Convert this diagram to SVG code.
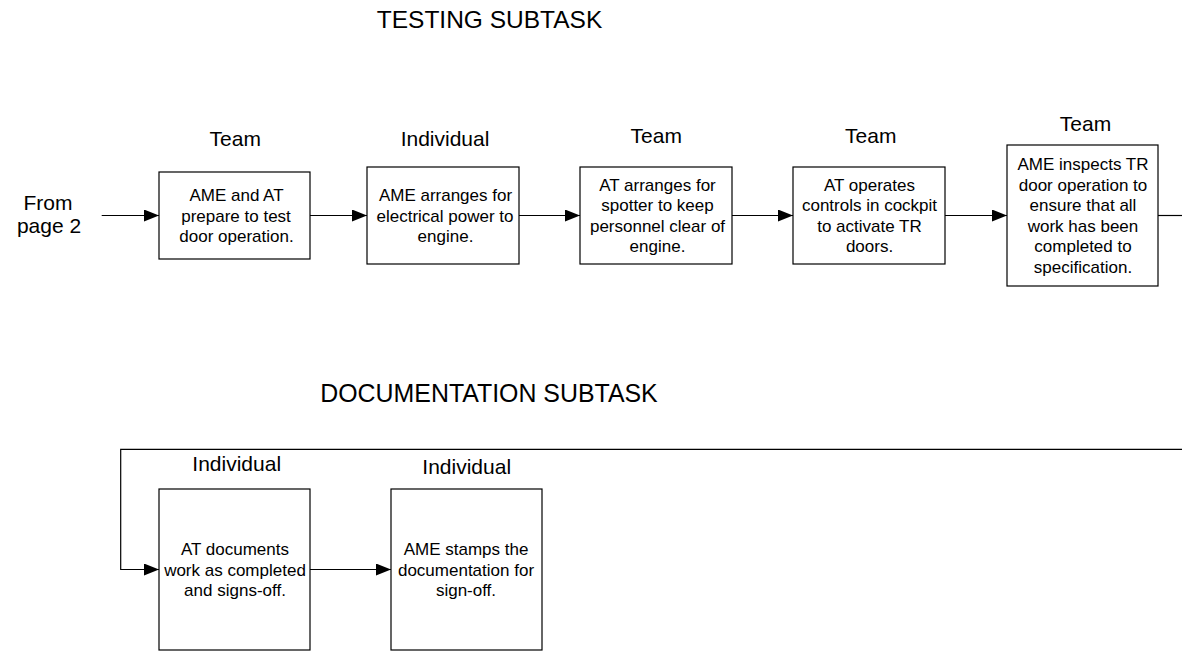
<svg xmlns="http://www.w3.org/2000/svg" width="1182" height="655" viewBox="0 0 1182 655">
<style>
text{font-family:"Liberation Sans",Arial,sans-serif;fill:#000}
.t{font-size:17px;text-anchor:middle}
.l{font-size:21px;text-anchor:middle}
.h{font-size:24.5px;text-anchor:middle}
rect{fill:#fff;stroke:#000;stroke-width:1.2}
.c{fill:none;stroke:#000;stroke-width:1.2}
</style>
<defs>
<marker id="ah" markerWidth="15" markerHeight="12" refX="15" refY="6" orient="auto" markerUnits="userSpaceOnUse">
<path d="M0,0 L15,6 L0,12 Z" fill="#000"/>
</marker>
</defs>
<rect x="0" y="0" width="1182" height="655" style="fill:#fff;stroke:none"/>
<text class="h" x="489.5" y="27.8">TESTING SUBTASK</text>
<text class="h" x="489" y="402.3" style="font-size:24.9px">DOCUMENTATION SUBTASK</text>
<g id="from">
<text class="l" x="48" y="210">From</text>
<text class="l" x="49" y="233.3">page 2</text>
</g>
<g id="connectors">
<line class="c" x1="101.7" y1="215.5" x2="159" y2="215.5" marker-end="url(#ah)"/>
<line class="c" x1="310" y1="215.5" x2="367" y2="215.5" marker-end="url(#ah)"/>
<line class="c" x1="519" y1="215.5" x2="580" y2="215.5" marker-end="url(#ah)"/>
<line class="c" x1="732" y1="215.5" x2="793" y2="215.5" marker-end="url(#ah)"/>
<line class="c" x1="945" y1="215.5" x2="1007" y2="215.5" marker-end="url(#ah)"/>
<line class="c" x1="1158" y1="215.5" x2="1182" y2="215.5"/>
<polyline class="c" points="1182,449.3 120.7,449.3 120.7,569.5 159,569.5" marker-end="url(#ah)"/>
<line class="c" x1="310" y1="569.5" x2="391" y2="569.5" marker-end="url(#ah)"/>
</g>
<g id="n1">
<text class="l" x="235.3" y="145.7">Team</text>
<rect x="159" y="172" width="151" height="87"/>
<text class="t" x="236.5" y="201">AME and AT</text>
<text class="t" x="236" y="221.5">prepare to test</text>
<text class="t" x="236.5" y="242">door operation.</text>
</g>
<g id="n2">
<text class="l" x="445" y="145.7">Individual</text>
<rect x="367" y="167" width="152" height="97"/>
<text class="t" x="445.5" y="201">AME arranges for</text>
<text class="t" x="445" y="221.5">electrical power to</text>
<text class="t" x="445.5" y="242">engine.</text>
</g>
<g id="n3">
<text class="l" x="656.3" y="142.7">Team</text>
<rect x="580" y="167" width="152" height="97"/>
<text class="t" x="657.5" y="190.8">AT arranges for</text>
<text class="t" x="657.5" y="211.3">spotter to keep</text>
<text class="t" x="657.5" y="231.8">personnel clear of</text>
<text class="t" x="657.5" y="252.3">engine.</text>
</g>
<g id="n4">
<text class="l" x="870.8" y="143.3">Team</text>
<rect x="793" y="167" width="152" height="97"/>
<text class="t" x="869.5" y="190.8">AT operates</text>
<text class="t" x="869.5" y="211.3">controls in cockpit</text>
<text class="t" x="869.5" y="231.8">to activate TR</text>
<text class="t" x="869.5" y="252.3">doors.</text>
</g>
<g id="n5">
<text class="l" x="1085.5" y="131">Team</text>
<rect x="1007" y="145" width="151" height="141"/>
<text class="t" x="1083" y="170.3">AME inspects TR</text>
<text class="t" x="1083" y="190.8">door operation to</text>
<text class="t" x="1083" y="211.3">ensure that all</text>
<text class="t" x="1083" y="231.8">work has been</text>
<text class="t" x="1083" y="252.3">completed to</text>
<text class="t" x="1083" y="272.8">specification.</text>
</g>
<g id="n6">
<text class="l" x="236.7" y="470.7">Individual</text>
<rect x="159" y="489" width="151" height="161"/>
<text class="t" x="235" y="555">AT documents</text>
<text class="t" x="235" y="575.5">work as completed</text>
<text class="t" x="235" y="596">and signs-off.</text>
</g>
<g id="n7">
<text class="l" x="466.7" y="474.3">Individual</text>
<rect x="391" y="489" width="151" height="161"/>
<text class="t" x="466" y="555">AME stamps the</text>
<text class="t" x="466" y="575.5">documentation for</text>
<text class="t" x="466" y="596">sign-off.</text>
</g>
</svg>
